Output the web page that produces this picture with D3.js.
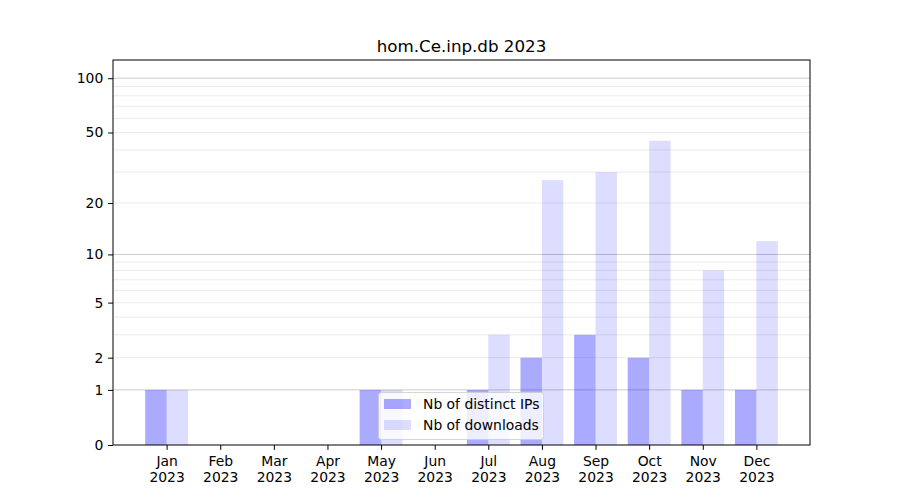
<!DOCTYPE html>
<html><head><meta charset="utf-8">
<script src="https://cdn.jsdelivr.net/npm/d3@7"></script>
<style>body{margin:0;background:#fff}svg{font-family:"DejaVu Sans",sans-serif}</style>
</head><body>
<svg id="c" width="900" height="500"></svg>
<script>
const months = ["Jan","Feb","Mar","Apr","May","Jun","Jul","Aug","Sep","Oct","Nov","Dec"];
const yearLabel = "2023";
const distinctIPs = [1,0,0,0,1,0,1,2,3,2,1,1];
const downloads = [1,0,0,0,1,0,3,27,30,45,8,12];
const yTicks = [0,1,2,5,10,20,50,100];
const majorGrid = [1,10,100];
const minorGrid = [2,3,4,5,6,7,8,9,20,30,40,50,60,70,80,90];
const seriesNames = ["Nb of distinct IPs","Nb of downloads"];
const title = "hom.Ce.inp.db 2023";

const svg = d3.select("#c");
const L=113,R=810,T=60,B=445;
const x = d3.scaleLinear().domain([-1,12]).range([L,R]);
const y = d3.scaleSymlog().constant(1).domain([0,126]).range([B,T]);
const fs = 13.9;
const tk = 4.86;

const g = svg.append("g");
g.selectAll(".mg").data(minorGrid).join("line")
  .attr("x1",L).attr("x2",R).attr("y1",d=>y(d)).attr("y2",d=>y(d))
  .attr("stroke","#ebebeb").attr("stroke-width",1);
g.selectAll(".Mg").data(majorGrid).join("line")
  .attr("x1",L).attr("x2",R).attr("y1",d=>y(d)).attr("y2",d=>y(d))
  .attr("stroke","#cbcbcb").attr("stroke-width",1);

const bw = 0.4;
g.selectAll(".b1").data(distinctIPs).join("rect")
  .attr("x",(d,i)=>x(i-bw)).attr("width",x(bw)-x(0))
  .attr("y",d=>y(d)).attr("height",d=>B-y(d))
  .attr("fill","blue").attr("fill-opacity",0.333);
g.selectAll(".b2").data(downloads).join("rect")
  .attr("x",(d,i)=>x(i)).attr("width",x(bw)-x(0))
  .attr("y",d=>y(d)).attr("height",d=>B-y(d))
  .attr("fill","blue").attr("fill-opacity",0.135);

// axes frame
svg.append("rect").attr("x",L).attr("y",T).attr("width",R-L).attr("height",B-T)
  .attr("fill","none").attr("stroke","#000").attr("stroke-width",1);

// y axis
const yAxis = d3.axisLeft(y).tickValues(yTicks).tickFormat(d3.format("d")).tickSizeOuter(0).tickSize(tk).tickPadding(tk);
const ya = svg.append("g").attr("transform",`translate(${L},0)`).call(yAxis);
ya.select(".domain").remove();
ya.selectAll("text").attr("font-size",fs).attr("font-family","DejaVu Sans").attr("fill","#000");
ya.selectAll("line").attr("stroke","#000");

// x axis
const xAxis = d3.axisBottom(x).tickValues(d3.range(12)).tickFormat(i=>months[i]).tickSizeOuter(0).tickSize(tk).tickPadding(tk);
const xa = svg.append("g").attr("transform",`translate(0,${B})`).call(xAxis);
xa.select(".domain").remove();
xa.selectAll("line").attr("stroke","#000");
xa.selectAll("text").attr("font-size",fs).attr("font-family","DejaVu Sans").attr("fill","#000")
  .attr("y",0)
  .each(function(i){
    const t=d3.select(this); t.text(null).attr("dy",null);
    t.append("tspan").attr("x",0).attr("y",21).text(months[i]);
    t.append("tspan").attr("x",0).attr("y",37).text(yearLabel);
  });

// title
svg.append("text").attr("x",(L+R)/2).attr("y",52).attr("text-anchor","middle")
  .attr("font-size",16.7).text(title);

// legend
const lg = svg.append("g");
lg.append("rect").attr("x",378.5).attr("y",392.5).attr("width",165).attr("height",47).attr("rx",3)
  .attr("fill","#fff").attr("fill-opacity",0.8).attr("stroke","#cccccc").attr("stroke-opacity",0.8);
const op=[0.333,0.135];
seriesNames.forEach((n,i)=>{
  lg.append("rect").attr("x",384).attr("y",399+i*21).attr("width",27).attr("height",10)
    .attr("fill","blue").attr("fill-opacity",op[i]);
  lg.append("text").attr("x",423).attr("y",409+i*21).attr("font-size",fs).text(n);
});
</script>
</body></html>
